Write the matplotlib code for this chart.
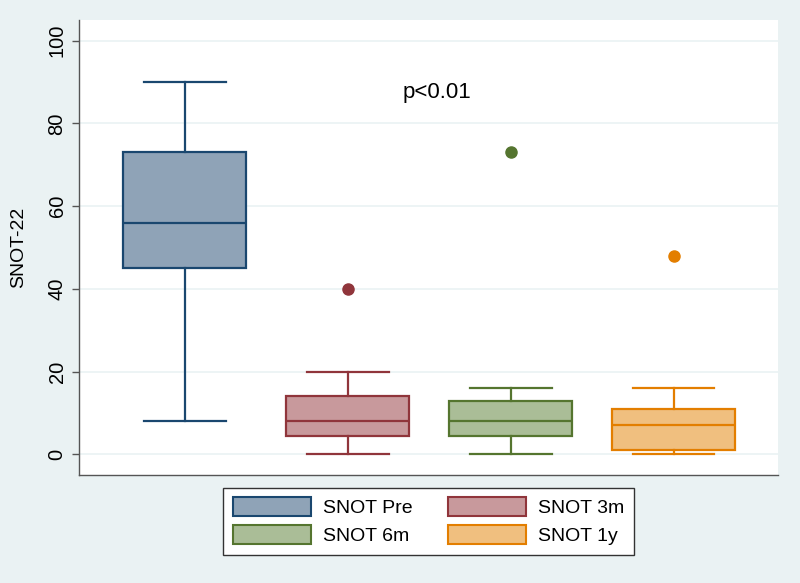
import matplotlib
matplotlib.use("Agg")
import matplotlib.pyplot as plt
from matplotlib.patches import Patch

plt.rcParams["font.family"] = ["Liberation Sans", "DejaVu Sans"]

# 各群の箱ひげ図の値
labels = ["SNOT Pre", "SNOT 3m", "SNOT 6m", "SNOT 1y"]
whislo = [8, 0, 0, 0]
q1 = [45, 4.4, 4.4, 1]
med = [56, 8, 8, 7]
q3 = [73, 14, 13, 11]
whishi = [90, 20, 16, 16]
fliers = [[], [40], [73], [48]]

edge_colors = ["#1a476f", "#90353b", "#55752f", "#e37e00"]
face_colors = ["#8fa3b7", "#c8999c", "#aabd97", "#f0bf7f"]

BG = "#eaf2f3"

fig = plt.figure(figsize=(8, 5.83), dpi=100, facecolor=BG)
ax = fig.add_axes([79/800, 1-475/583, 699/800, 455/583])
ax.set_facecolor("white")

stats = []
for i in range(len(labels)):
    stats.append(dict(whislo=whislo[i], q1=q1[i], med=med[i], q3=q3[i],
                      whishi=whishi[i], fliers=fliers[i], label=labels[i]))

pos = [1, 2, 3, 4]
for i in range(len(stats)):
    c = edge_colors[i]
    ax.bxp([stats[i]], positions=[pos[i]], widths=0.755, capwidths=0.5,
           patch_artist=True, showfliers=True,
           boxprops=dict(facecolor=face_colors[i], edgecolor=c, linewidth=1.6),
           medianprops=dict(color=c, linewidth=1.6),
           whiskerprops=dict(color=c, linewidth=1.6),
           capprops=dict(color=c, linewidth=1.6),
           flierprops=dict(marker="o", markerfacecolor=c, markeredgecolor=c, markersize=8))

ax.set_xlim(0.35, 4.64)
ax.set_ylim(-5, 105)
ax.set_yticks([0, 20, 40, 60, 80, 100])
ax.set_xticks([])
ax.yaxis.grid(True, color=BG, linewidth=1.2)
ax.set_axisbelow(True)
for s in ["top", "right"]:
    ax.spines[s].set_visible(False)
for s in ["left", "bottom"]:
    ax.spines[s].set_color("#555555")
    ax.spines[s].set_linewidth(1.0)
ax.tick_params(axis="y", direction="out", length=5, width=1, color="#555555",
               labelsize=14.5, pad=4)
for t in ax.get_yticklabels():
    t.set_rotation(90)
    t.set_va("center")
ax.set_ylabel("SNOT-22", fontsize=14, labelpad=15)

ax.text(2.546, 87.5, "p<0.01", fontsize=16, ha="center", va="center")

# 凡例は行順 (Pre, 3m / 6m, 1y) に並べる
order = [0, 2, 1, 3]
handles = [Patch(facecolor=face_colors[i], edgecolor=edge_colors[i], linewidth=1.5,
                 label=labels[i]) for i in order]
leg = fig.legend(handles=handles, ncol=2, loc="center",
                 bbox_to_anchor=(0.536, 0.106), fontsize=14, frameon=True,
                 fancybox=False, edgecolor="#333333", facecolor="white",
                 framealpha=1, handlelength=4.0, handleheight=1.1,
                 handletextpad=0.65, columnspacing=1.8, labelspacing=0.4,
                 borderpad=0.5)
leg.get_frame().set_linewidth(1.0)

fig.savefig("out.png", dpi=100, facecolor=BG)
